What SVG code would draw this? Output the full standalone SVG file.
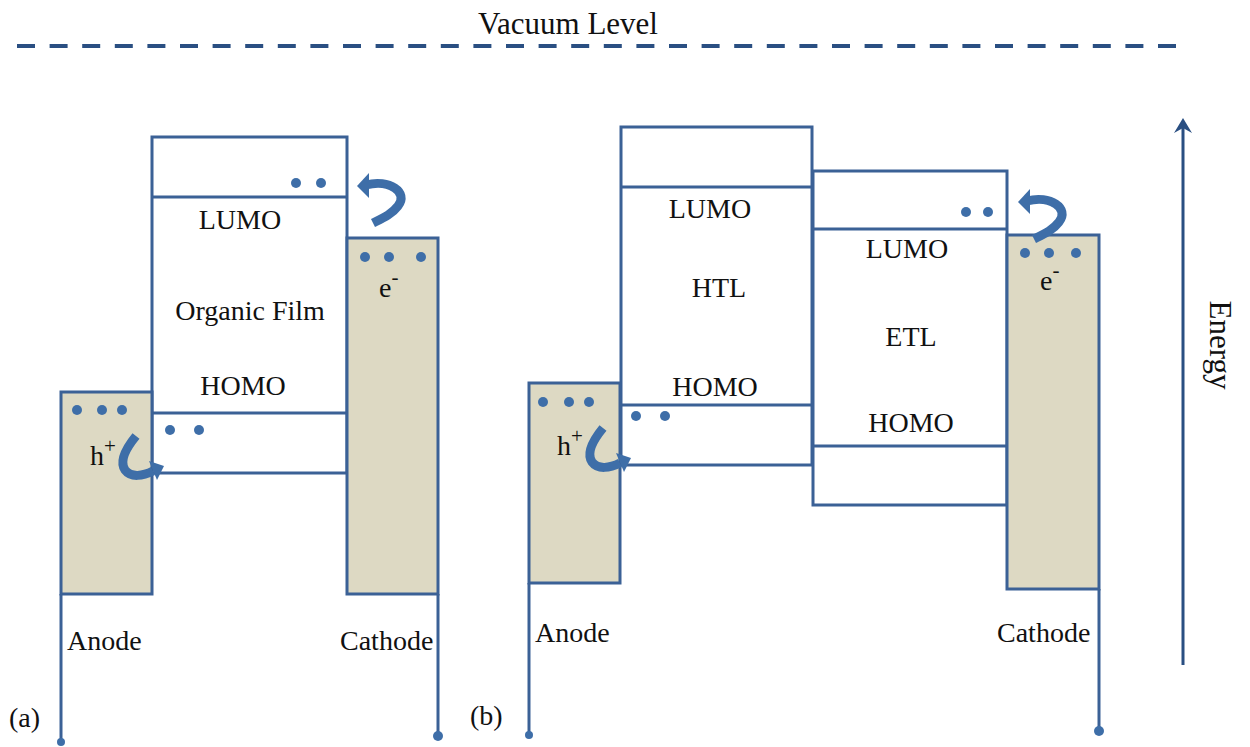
<svg xmlns="http://www.w3.org/2000/svg" xmlns:xlink="http://www.w3.org/1999/xlink" width="1250" height="747" viewBox="0 0 1250 747">
<style>
.box{fill:#fff;stroke:#3b6196;stroke-width:3}
.ln{stroke:#3b6196;stroke-width:3;fill:none}
.elec{fill:#ddd9c3;stroke:#3b6196;stroke-width:3}
.lead{stroke:#3b6196;stroke-width:3;fill:none}
.dot{fill:#3e6ea8}
.t{font-family:"Liberation Serif","Times New Roman",serif;font-size:28px;fill:#111}
.sup{font-size:21px}
.cbody{fill:none;stroke:#3e6ea8;stroke-width:9}
.chead{fill:#3e6ea8}
</style>
<defs>
<g id="curlTop">
<path class="cbody" d="M9,-1 C32,-7 52,6 41,20 C35,28 26,32 16,37"/>
<polygon class="chead" points="0,0 12,-13 12,12"/>
</g>
<g id="curlBot">
<path class="cbody" d="M-27,-31 C-36,-20 -44,-6 -38,3 C-32,11 -20,9 -10,4"/>
<polygon class="chead" points="1,-1 -14,-6 -6,13"/>
</g>
</defs>
<rect width="1250" height="747" fill="#fff"/>

<g id="vacuum-level">
<line x1="17" y1="46" x2="1180" y2="46" stroke="#2a4f82" stroke-width="4" stroke-dasharray="18 14.6"/>
<text class="t" x="568" y="34" text-anchor="middle" style="font-size:31px">Vacuum Level</text>
</g>

<!-- (a) -->
<g id="organic-film">
<rect class="box" x="152" y="137" width="195" height="336"/>
<line class="ln" x1="152" y1="197" x2="347" y2="197"/>
<line class="ln" x1="152" y1="413" x2="347" y2="413"/>
<text class="t" x="240" y="229" text-anchor="middle">LUMO</text>
<text class="t" x="250" y="320" text-anchor="middle">Organic Film</text>
<text class="t" x="243" y="395" text-anchor="middle">HOMO</text>
<circle class="dot" cx="296" cy="183" r="5"/>
<circle class="dot" cx="321" cy="183" r="5"/>
<circle class="dot" cx="170" cy="430" r="5"/>
<circle class="dot" cx="199" cy="430" r="5"/>
</g>
<g id="anode-a">
<rect class="elec" x="61" y="392" width="91" height="202"/>
<line class="lead" x1="61" y1="594" x2="61" y2="741"/>
<circle class="dot" cx="61" cy="742" r="4"/>
<circle class="dot" cx="77" cy="410" r="5"/>
<circle class="dot" cx="102" cy="410" r="5"/>
<circle class="dot" cx="122" cy="410" r="5"/>
<text class="t" x="90" y="465">h<tspan class="sup" dy="-12">+</tspan></text>
<text class="t" x="67" y="650">Anode</text>
<text class="t" x="9" y="727">(a)</text>
</g>
<g id="cathode-a">
<rect class="elec" x="347" y="238" width="91" height="356"/>
<line class="lead" x1="438" y1="594" x2="438" y2="735"/>
<circle class="dot" cx="438" cy="736" r="5"/>
<circle class="dot" cx="365" cy="257" r="5"/>
<circle class="dot" cx="389" cy="257" r="5"/>
<circle class="dot" cx="421" cy="257" r="5"/>
<text class="t" x="379" y="297">e<tspan class="sup" dy="-13">-</tspan></text>
<text class="t" x="340" y="650">Cathode</text>
</g>

<!-- (b) -->
<g id="htl">
<rect class="box" x="621" y="127" width="191" height="338"/>
<line class="ln" x1="621" y1="187" x2="812" y2="187"/>
<line class="ln" x1="621" y1="405" x2="812" y2="405"/>
<text class="t" x="710" y="218" text-anchor="middle">LUMO</text>
<text class="t" x="719" y="297" text-anchor="middle">HTL</text>
<text class="t" x="715" y="396" text-anchor="middle">HOMO</text>
<circle class="dot" cx="636" cy="416" r="5"/>
<circle class="dot" cx="665" cy="416" r="5"/>
</g>
<g id="etl">
<rect class="box" x="813" y="171" width="194" height="334"/>
<line class="ln" x1="813" y1="229" x2="1007" y2="229"/>
<line class="ln" x1="813" y1="446" x2="1007" y2="446"/>
<text class="t" x="907" y="258" text-anchor="middle">LUMO</text>
<text class="t" x="911" y="346" text-anchor="middle">ETL</text>
<text class="t" x="911" y="432" text-anchor="middle">HOMO</text>
<circle class="dot" cx="966" cy="212" r="5"/>
<circle class="dot" cx="988" cy="212" r="5"/>
</g>
<g id="anode-b">
<rect class="elec" x="529" y="383" width="91" height="200"/>
<line class="lead" x1="529" y1="583" x2="529" y2="734"/>
<circle class="dot" cx="529" cy="735" r="4"/>
<circle class="dot" cx="543" cy="402" r="5"/>
<circle class="dot" cx="569" cy="402" r="5"/>
<circle class="dot" cx="589" cy="402" r="5"/>
<text class="t" x="557" y="455">h<tspan class="sup" dy="-12">+</tspan></text>
<text class="t" x="535" y="642">Anode</text>
<text class="t" x="470" y="725">(b)</text>
</g>
<g id="cathode-b">
<rect class="elec" x="1007" y="235" width="92" height="354"/>
<line class="lead" x1="1099" y1="589" x2="1099" y2="730"/>
<circle class="dot" cx="1099" cy="731" r="5"/>
<circle class="dot" cx="1025" cy="253" r="5"/>
<circle class="dot" cx="1049" cy="253" r="5"/>
<circle class="dot" cx="1076" cy="253" r="5"/>
<text class="t" x="1040" y="290">e<tspan class="sup" dy="-13">-</tspan></text>
<text class="t" x="997" y="642">Cathode</text>
</g>

<g id="energy-axis">
<line x1="1183" y1="665" x2="1183" y2="124" stroke="#2a4f82" stroke-width="3"/>
<path d="M1183,118 L1192,133 L1183,128 L1174,133 Z" fill="#2a4f82"/>
<text class="t" transform="translate(1210,345) rotate(90)" text-anchor="middle" style="font-size:31px">Energy</text>
</g>

<g id="connectors">
<use xlink:href="#curlTop" transform="translate(357,186)"/>
<use xlink:href="#curlBot" transform="translate(163,467)"/>
<use xlink:href="#curlTop" transform="translate(1018,202)"/>
<use xlink:href="#curlBot" transform="translate(630,459)"/>
</g>
</svg>
